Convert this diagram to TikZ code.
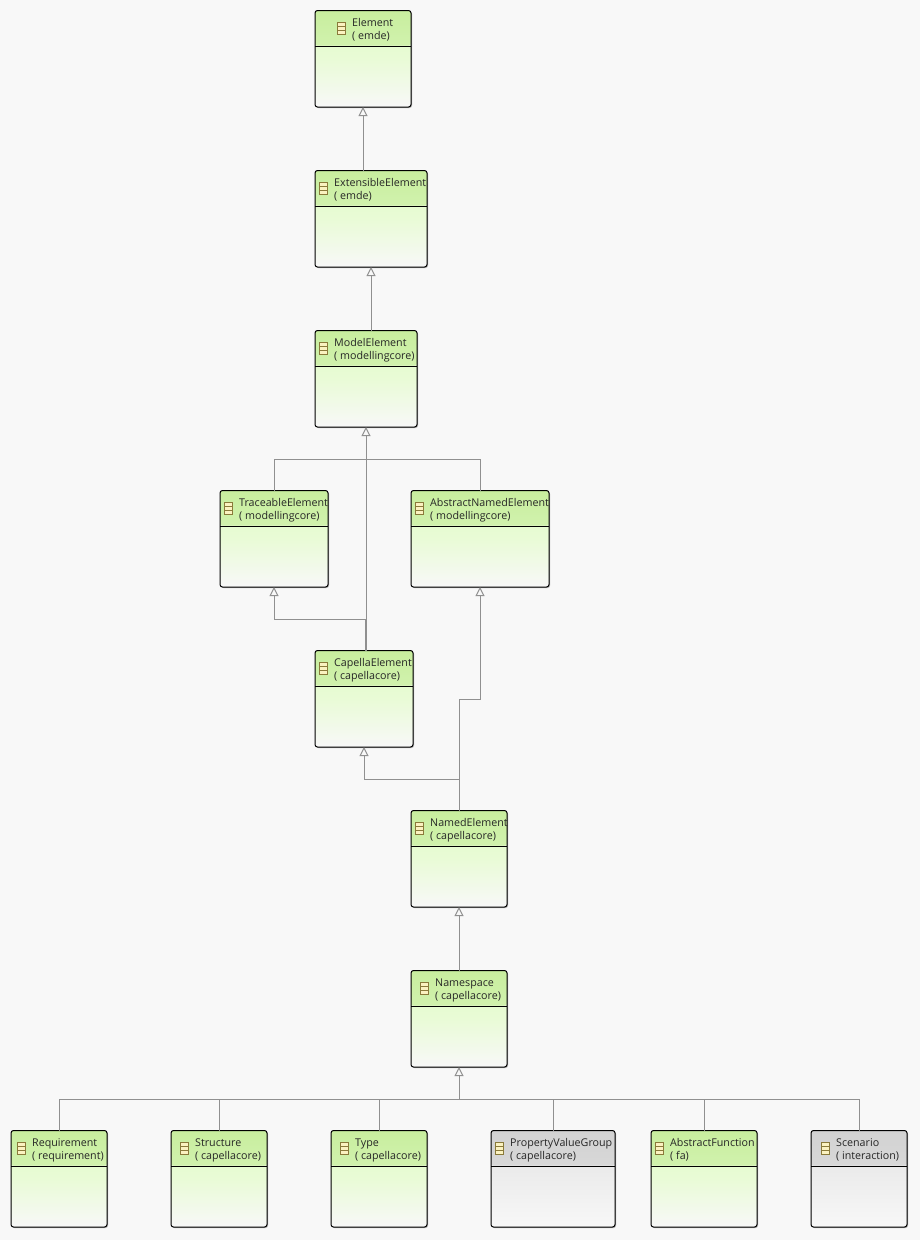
\documentclass[tikz,border=0pt]{standalone}
\usepackage{fontspec}
\setmainfont{Open Sans}
\usetikzlibrary{arrows.meta,shadows,calc}
\definecolor{bgc}{HTML}{F8F8F8}
\definecolor{lineg}{HTML}{909090}
\definecolor{iconb}{HTML}{8A7A3A}
\definecolor{iconf}{HTML}{FBF2C0}
\tikzset{
  classbox/.style={draw=black,line width=1pt,rounded corners=2.5pt,inner sep=0pt,outer sep=0pt,anchor=north west,
    minimum height=96.5pt,drop shadow={shadow xshift=1pt,shadow yshift=-1pt,fill=black,opacity=.3}},
  greenbox/.style={classbox,top color=E5top,bottom color=bgc,middle color=E5mid,
    path picture={\shade[top color=Gtop,bottom color=Gbot] (path picture bounding box.north west) rectangle ([yshift=-35pt]path picture bounding box.north east);}},
  greybox/.style={classbox,top color=Ytop,bottom color=bgc,middle color=Ymid,
    path picture={\shade[top color=Ghead,bottom color=Ghead2] (path picture bounding box.north west) rectangle ([yshift=-35pt]path picture bounding box.north east);}},
  classtext/.style={anchor=north west,inner sep=0pt,align=left,font=\fontsize{10.7}{13}\selectfont,text=black!85},
  iconbox/.style={draw=iconb,fill=iconf,line width=.9pt,minimum width=8pt,minimum height=12pt,inner sep=0pt,
    path picture={\draw[iconb,line width=.7pt] ([yshift=4pt]path picture bounding box.south west) -- ([yshift=4pt]path picture bounding box.south east)
      ([yshift=-4pt]path picture bounding box.north west) -- ([yshift=-4pt]path picture bounding box.north east);}},
  inherit/.style={draw=lineg,line width=1pt,-{Triangle[open,fill=bgc,length=9pt,width=9pt]}},
  branch/.style={draw=lineg,line width=1pt},
}
\definecolor{Gtop}{HTML}{C8EE9E}
\definecolor{Gbot}{HTML}{E0F8C8}
\definecolor{E5top}{HTML}{DFF9C5}
\definecolor{E5mid}{HTML}{E9FBD6}
\definecolor{Ghead}{HTML}{D2D2D2}
\definecolor{Ghead2}{HTML}{E2E2E2}
\definecolor{Ytop}{HTML}{E2E2E2}
\definecolor{Ymid}{HTML}{EDEDED}
% name, left, top, width, text offset, lines, style
\newcommand{\umlclass}[7]{%
  \node[#7,minimum width=#4pt] (#1) at (#2,#3-.5) {};
  \draw[black,line width=1pt] ($(#2,#3)+(0,35)$) -- ($(#2,#3)+(#4,35)$);
  \node[iconbox] (#1icon) at ($(#2,#3)+(#5,17.5)+(-11,0)$) {};
  \node[classtext] (#1text) at ($(#2,#3)+(#5,7.3)$) {#6};
}
\begin{document}
\begin{tikzpicture}[x=1pt,y=-1pt]
\fill[bgc] (0,0) rectangle (920,1240);
\useasboundingbox (0,0) rectangle (920,1240);
\umlclass{element}{315}{11}{96}{37}{Element\\( emde)}{greenbox}
\umlclass{extensible}{315}{171}{112}{19}{ExtensibleElement\\( emde)}{greenbox}
\umlclass{model}{315}{331}{102}{19}{ModelElement\\( modellingcore)}{greenbox}
\umlclass{traceable}{220}{491}{108}{19}{TraceableElement\\( modellingcore)}{greenbox}
\umlclass{abstractnamed}{411}{491}{138}{19}{AbstractNamedElement\\( modellingcore)}{greenbox}
\umlclass{capella}{315}{651}{98}{19}{CapellaElement\\( capellacore)}{greenbox}
\umlclass{named}{411}{811}{96}{19}{NamedElement\\( capellacore)}{greenbox}
\umlclass{namespace}{411}{971}{96}{24}{Namespace\\( capellacore)}{greenbox}
\umlclass{requirement}{11}{1131}{96}{21}{Requirement\\( requirement)}{greenbox}
\umlclass{structure}{171}{1131}{96}{24}{Structure\\( capellacore)}{greenbox}
\umlclass{type}{331}{1131}{96}{24}{Type\\( capellacore)}{greenbox}
\umlclass{pvg}{491}{1131}{124}{19}{PropertyValueGroup\\( capellacore)}{greybox}
\umlclass{function}{651}{1131}{106}{19}{AbstractFunction\\( fa)}{greenbox}
\umlclass{scenario}{811}{1131}{96}{25}{Scenario\\( interaction)}{greybox}

\draw[inherit] (element.south |- extensible.north) -- (element.south);
\draw[inherit] (extensible.south |- model.north) -- (extensible.south);
\coordinate (split1) at ($(model.south)+(0,32)$);
\draw[inherit] (model.south |- capella.north) -- (model.south);
\draw[branch] (traceable.north) -- (traceable.north |- split1) -- (abstractnamed.north |- split1) -- (abstractnamed.north);
\coordinate (c1) at (365,650.5);
\draw[inherit] (c1) -- (365,619) -| (traceable.south);
\coordinate (n1) at (named.north);
\draw[inherit] (n1) -- (459,699) -| (abstractnamed.south);
\draw[inherit] (n1) -- (459,779) -| (capella.south);
\draw[inherit] (namespace.north) -- (named.south);
\coordinate (split2) at ($(namespace.south)+(0,32)$);
\draw[inherit] (split2) -- (namespace.south);
\draw[branch] (requirement.north) -- (requirement.north |- split2) -- (scenario.north |- split2) -- (scenario.north);
\draw[branch] (structure.north) -- (structure.north |- split2);
\draw[branch] (type.north) -- (type.north |- split2);
\draw[branch] (pvg.north) -- (pvg.north |- split2);
\draw[branch] (function.north) -- (function.north |- split2);
\end{tikzpicture}
\end{document}
